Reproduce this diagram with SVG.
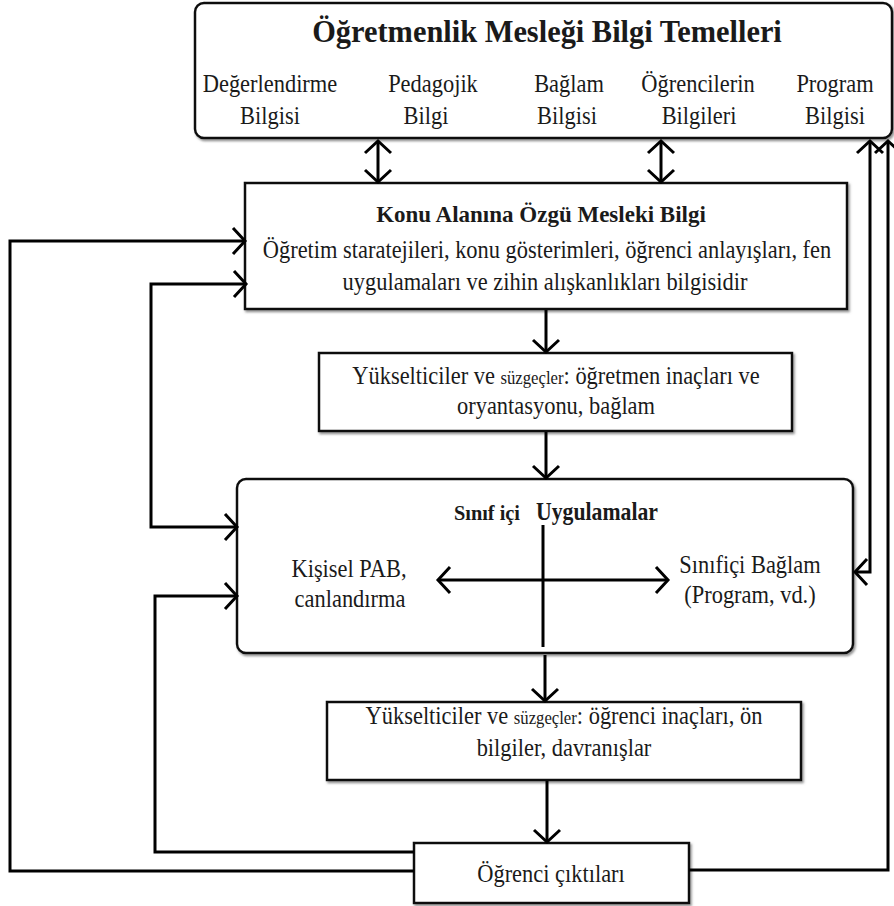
<svg xmlns="http://www.w3.org/2000/svg" width="894" height="906" viewBox="0 0 894 906">
  <style>
    text { font-family: "Liberation Serif", "Times New Roman", serif; fill: #1a1a1a; text-anchor: middle; }
    .box { fill: #fff; stroke: #111; stroke-width: 2.5; filter: url(#shadow); }
    .title { font-size: 32px; font-weight: bold; transform: scaleX(0.95); transform-box: fill-box; transform-origin: center; }
    .label { font-size: 25.5px; transform: scaleX(0.88); transform-box: fill-box; transform-origin: center; }
    .bold { font-size: 23px; font-weight: bold; }
    .small { font-size: 19px; }
    .line { fill: none; stroke: #000; stroke-width: 3; }
  </style>
  <defs>
    <filter id="shadow" x="-5%" y="-5%" width="110%" height="115%">
      <feDropShadow dx="1.5" dy="2" stdDeviation="0.8" flood-color="#777" flood-opacity="0.8"/>
    </filter>
    <marker id="ah" markerUnits="userSpaceOnUse" markerWidth="34" markerHeight="34" viewBox="-17 -17 34 34" refX="0" refY="0" orient="auto-start-reverse" overflow="visible">
      <path d="M-12,-13 L0,0 L-12,13" fill="none" stroke="#000" stroke-width="3"/>
    </marker>
  </defs>

  <!-- Teaching profession knowledge base -->
  <g id="node-temeller">
    <rect class="box" x="195" y="3" width="697" height="135" rx="9"/>
    <text class="title" x="547" y="42">Öğretmenlik Mesleği Bilgi Temelleri</text>
    <text class="label" x="270" y="92">Değerlendirme</text>
    <text class="label" x="270" y="124">Bilgisi</text>
    <text class="label" x="433" y="92">Pedagojik</text>
    <text class="label" x="426" y="124">Bilgi</text>
    <text class="label" x="569" y="92">Bağlam</text>
    <text class="label" x="567" y="124">Bilgisi</text>
    <text class="label" x="698" y="92">Öğrencilerin</text>
    <text class="label" x="699" y="124">Bilgileri</text>
    <text class="label" x="835" y="92">Program</text>
    <text class="label" x="835" y="124">Bilgisi</text>
  </g>

  <!-- Topic-specific professional knowledge -->
  <g id="node-konu">
    <rect class="box" x="245" y="183" width="602" height="126"/>
    <text class="bold" x="541" y="222">Konu Alanına Özgü Mesleki Bilgi</text>
    <text class="label" x="547" y="258">Öğretim staratejileri, konu gösterimleri, öğrenci anlayışları, fen</text>
    <text class="label" x="545" y="290">uygulamaları ve zihin alışkanlıkları bilgisidir</text>
  </g>

  <!-- Teacher amplifiers and filters -->
  <g id="node-yukseltici-1">
    <rect class="box" x="319" y="353" width="473" height="78"/>
    <text class="label" x="556" y="384">Yükselticiler ve <tspan class="small">süzgeçler</tspan>: öğretmen inaçları ve</text>
    <text class="label" x="556" y="414">oryantasyonu, bağlam</text>
  </g>

  <!-- Classroom practice -->
  <g id="node-uygulamalar">
    <rect class="box" x="237" y="479" width="616" height="174" rx="9"/>
    <text x="487" y="520" font-size="20" font-weight="bold" textLength="66" lengthAdjust="spacingAndGlyphs">Sınıf içi</text>
    <text x="597" y="520" font-size="25" font-weight="bold" textLength="122" lengthAdjust="spacingAndGlyphs">Uygulamalar</text>
    <text class="label" x="349" y="577">Kişisel PAB,</text>
    <text class="label" x="350" y="607">canlandırma</text>
    <text class="label" x="750" y="573">Sınıfiçi Bağlam</text>
    <text class="label" x="750" y="603">(Program, vd.)</text>
  </g>

  <!-- Student amplifiers and filters -->
  <g id="node-yukseltici-2">
    <rect class="box" x="327" y="702" width="474" height="78"/>
    <text class="label" x="564" y="724">Yükselticiler ve <tspan class="small">süzgeçler</tspan>: öğrenci inaçları, ön</text>
    <text class="label" x="564" y="756">bilgiler, davranışlar</text>
  </g>

  <!-- Student outcomes -->
  <g id="node-ciktilar">
    <rect class="box" x="414" y="843" width="275" height="60"/>
    <text class="label" x="551" y="882">Öğrenci çıktıları</text>
  </g>

  <g id="connectors">
    <path class="line" d="M378,141 L378,182" marker-start="url(#ah)" marker-end="url(#ah)"/>
    <path class="line" d="M661,141 L661,182" marker-start="url(#ah)" marker-end="url(#ah)"/>
    <path class="line" d="M546,310 L546,352" marker-end="url(#ah)"/>
    <path class="line" d="M546,432 L546,478" marker-end="url(#ah)"/>
    <path class="line" d="M543,525 L543,647"/>
    <path class="line" d="M438,580 L668,580" marker-start="url(#ah)" marker-end="url(#ah)"/>
    <path class="line" d="M545,655 L545,701" marker-end="url(#ah)"/>
    <path class="line" d="M547,781 L547,842" marker-end="url(#ah)"/>
    <path class="line" d="M414,871 L10,871 L10,241 L245,241" marker-end="url(#ah)"/>
    <path class="line" d="M246,284 L151,284 L151,527 L237,527" marker-start="url(#ah)" marker-end="url(#ah)"/>
    <path class="line" d="M414,852 L155,852 L155,596 L237,596" marker-end="url(#ah)"/>
    <path class="line" d="M689,870 L888,870 L888,141" marker-end="url(#ah)"/>
    <path class="line" d="M855,572 L870,572 L870,141" marker-start="url(#ah)" marker-end="url(#ah)"/>
  </g>
</svg>
